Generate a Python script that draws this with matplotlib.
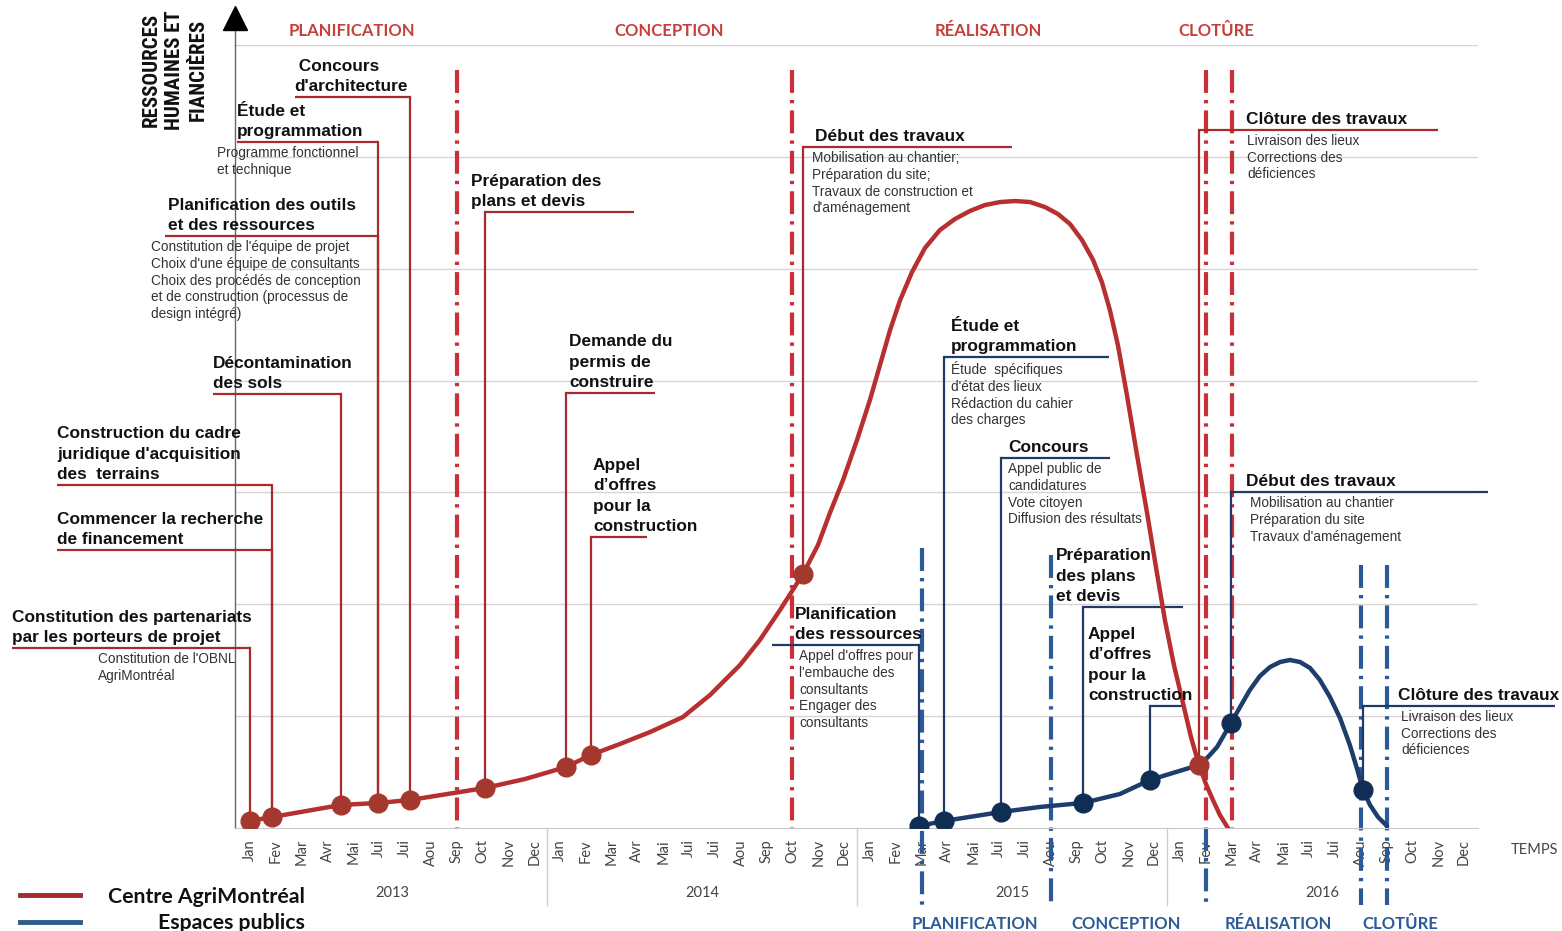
import matplotlib
matplotlib.use("Agg")
import matplotlib.pyplot as plt
import matplotlib.transforms as mtransforms
from matplotlib import font_manager
from matplotlib.lines import Line2D

W, H = 1562, 931

# ---------------------------------------------------------------- data
month_labels = ["Jan", "Fev", "Mar", "Avr", "Mai", "Jui", "Jui", "Aou",
                "Sep", "Oct", "Nov", "Dec"] * 4
year_labels = ["2013", "2014", "2015", "2016"]

# x: months since Jan 2013, y: resources (one grid step = 1)
agri_x = [0.00, 0.85, 3.52, 4.96, 6.19, 9.10, 10.65, 12.23, 13.20, 14.32,
          15.49, 16.76, 17.81, 18.97, 19.74, 20.52, 21.41, 21.99, 22.45,
          22.96, 23.50, 24.00, 24.39, 24.78, 25.17, 25.63, 26.13, 26.71,
          27.29, 27.87, 28.45, 29.04, 29.62, 30.20, 30.78, 31.28, 31.75,
          32.21, 32.64, 32.98, 33.29, 33.60, 33.95, 34.34, 34.73, 35.08,
          35.42, 35.77, 36.12, 36.43, 36.74, 37.01, 37.28, 37.55, 37.86]
agri_y = [0.063, 0.098, 0.206, 0.224, 0.250, 0.358, 0.438, 0.545, 0.653,
          0.751, 0.858, 0.992, 1.189, 1.457, 1.681, 1.949, 2.271, 2.530,
          2.816, 3.111, 3.468, 3.826, 4.139, 4.452, 4.720, 4.970, 5.185,
          5.346, 5.444, 5.516, 5.569, 5.596, 5.605, 5.596, 5.551, 5.489,
          5.399, 5.256, 5.078, 4.881, 4.631, 4.318, 3.871, 3.335, 2.816,
          2.324, 1.859, 1.457, 1.117, 0.813, 0.563, 0.393, 0.250, 0.116,
          0.000]
agri_pt_x = [0.00, 0.85, 3.52, 4.96, 6.19, 9.10, 12.23, 13.20, 21.41, 36.74]
agri_pt_y = [0.063, 0.098, 0.206, 0.224, 0.250, 0.358, 0.545, 0.653, 2.271,
             0.563]

public_x = [25.90, 26.87, 29.07, 30.58, 32.25, 33.68, 34.84, 35.73, 36.74,
            37.09, 37.44, 37.98, 38.33, 38.71, 39.10, 39.49, 39.88, 40.26,
            40.65, 41.04, 41.42, 41.81, 42.20, 42.58, 42.85, 43.09, 43.36,
            43.67, 44.02]
public_y = [0.018, 0.063, 0.143, 0.188, 0.224, 0.304, 0.429, 0.492, 0.563,
            0.635, 0.724, 0.939, 1.082, 1.234, 1.359, 1.439, 1.484, 1.502,
            1.484, 1.430, 1.323, 1.171, 0.983, 0.742, 0.536, 0.340, 0.206,
            0.098, 0.018]
public_pt_x = [25.90, 26.87, 29.07, 32.25, 34.84, 37.98, 43.09]
public_pt_y = [0.018, 0.063, 0.143, 0.224, 0.429, 0.939, 0.340]

# phase boundaries (month index)
agri_phase_lines = [8, 21, 37, 38]
agri_phase_top = 6.78
public_phase_lines = [26, 31, 37, 43, 44]
public_phase_tops = [2.50, 2.44, 0.0, 2.35, 2.35]

agri_phases = ["PLANIFICATION", "CONCEPTION", "RÉALISATION", "CLOTÛRE"]
public_phases = ["PLANIFICATION", "CONCEPTION", "RÉALISATION", "CLOTÛRE"]

agri_titles = [
    "Constitution des partenariats\npar les porteurs de projet",
    "Commencer la recherche\nde financement",
    "Construction du cadre\njuridique d'acquisition\ndes  terrains",
    "Décontamination\ndes sols",
    "Planification des outils\net des ressources",
    "Étude et\nprogrammation",
    " Concours\nd'architecture",
    "Préparation des\nplans et devis",
    "Demande du\npermis de\nconstruire",
    "Appel\nd’offres\npour la\nconstruction",
    "Début des travaux",
    "Clôture des travaux",
]
agri_notes = [
    "Constitution de l'OBNL\nAgriMontréal",
    None, None, None,
    "Constitution de l'équipe de projet\nChoix d'une équipe de consultants\n"
    "Choix des procédés de conception\net de construction (processus de\n"
    "design intégré)",
    "Programme fonctionnel\net technique",
    None, None, None, None,
    "Mobilisation au chantier;\nPréparation du site;\n"
    "Travaux de construction et\nd'aménagement",
    "Livraison des lieux\nCorrections des\ndéficiences",
]
agri_targets = [0, 1, 1, 2, 3, 3, 4, 5, 6, 7, 8, 9]

public_titles = [
    "Planification\ndes ressources",
    "Étude et\nprogrammation",
    "Concours",
    "Préparation\ndes plans\net devis",
    "Appel\nd’offres\npour la\nconstruction",
    "Début des travaux",
    "Clôture des travaux",
]
public_notes = [
    "Appel d'offres pour\nl'embauche des\nconsultants\nEngager des\nconsultants",
    "Étude  spécifiques\nd'état des lieux\nRédaction du cahier\ndes charges",
    "Appel public de\ncandidatures\nVote citoyen\nDiffusion des résultats",
    None, None,
    "Mobilisation au chantier\nPréparation du site\nTravaux d'aménagement",
    "Livraison des lieux\nCorrections des\ndéficiences",
]
public_targets = [0, 1, 2, 3, 4, 5, 6]

# ---------------------------------------------------------------- layout (pixels)
# title x, underline y, underline far end x, note x
agri_layout = [(12, 648, 12, 98), (57, 550, 57, 0), (57, 485, 57, 0),
               (213, 394, 213, 0), (168, 236, 165, 151), (237, 142, 237, 217),
               (294, 97, 295, 0), (471, 212, 634, 0), (569, 393, 655, 0),
               (593, 537, 647, 0), (815, 147, 1012, 812),
               (1246, 130, 1438, 1247)]
public_layout = [(795, 645, 772, 799), (951, 357, 1109, 951),
                 (1008, 458, 1110, 1008), (1056, 607, 1183, 0),
                 (1088, 706, 1183, 0), (1246, 492, 1488, 1250),
                 (1398, 706, 1555, 1401)]

RED = "#b7302f"
RED_LINE = "#a82a2d"
RED_DOT = "#a5382e"
RED_PHASE = "#c92f38"
BLUE = "#1d3d6c"
BLUE_LINE = "#1f3a66"
BLUE_DOT = "#102d53"
BLUE_PHASE = "#2b5a98"

TITLE_FONT = dict(family="Liberation Sans", fontsize=12.4, fontweight="bold",
                  color="#111111", linespacing=1.45)
NOTE_FONT = dict(family="Liberation Sans", fontsize=9.8, color="#333333",
                 linespacing=1.25)
CAL = ["Lato", "DejaVu Sans"]


def have_font(name):
    try:
        font_manager.findfont(font_manager.FontProperties(family=name),
                              fallback_to_default=False)
        return True
    except ValueError:
        return False


# narrow font for the vertical axis title, if one is installed
ylab_family, ylab_size = "Liberation Sans", 11.8
for fam, size in (("Roboto Condensed", 15), ("Liberation Sans Narrow", 14.5),
                  ("Open Sans Condensed", 14)):
    if have_font(fam):
        ylab_family, ylab_size = fam, size
        break

fig = plt.figure(figsize=(W / 100, H / 100), dpi=100)
fig.patch.set_facecolor("white")
ax = fig.add_axes([235 / W, 1 - 828 / H, (1478 - 235) / W, (828 - 45) / H])
ax.set_xlim((235 - 250) / 25.83, (1478 - 250) / 25.83)
ax.set_ylim(0, 7)

PX = mtransforms.Affine2D().scale(1 / W, -1 / H).translate(0, 1) + fig.transFigure
px_to_data = PX + ax.transData.inverted()

# axes, grid, ticks
ax.set_yticks(range(1, 8))
ax.set_yticklabels([])
ax.grid(axis="y", color="#ddd2d2", lw=1.0)
ax.set_axisbelow(True)
ax.tick_params(axis="y", length=0)
ax.set_xticks(range(48))
ax.set_xticklabels(month_labels, rotation=90, family=CAL, fontsize=10.5,
                   color="#444444")
ax.tick_params(axis="x", length=0, pad=8)
for s in ("top", "right"):
    ax.spines[s].set_visible(False)
ax.spines["bottom"].set_color("#c8c8c8")
ax.spines["left"].set_color("#666666")
ax.spines["left"].set_linewidth(1.0)
x_axis = ax.get_xlim()[0]
ax.plot([x_axis, x_axis], [7, 7.2], color="#666666", lw=1.0, clip_on=False)
ax.plot([x_axis], [7.24], marker="^", markersize=17, color="black",
        clip_on=False)

for i, yl in enumerate(year_labels):
    ax.text(5.5 + 12 * i, -0.58, yl, ha="center", va="center", family=CAL,
            fontsize=10.5, color="#444444")
    if i:
        ax.plot([12 * i - 0.5] * 2, [0, -0.69], color="#cfcfcf", lw=1.0,
                clip_on=False)
ax.text(48.8, -0.197, "TEMPS", ha="left", va="center", family=CAL,
        fontsize=10.5, color="#444444")

# phase separators
for m in agri_phase_lines:
    ax.plot([m, m], [agri_phase_top, 0], color=RED_PHASE, lw=3.0,
            ls=(0, (5.5, 1.7, 0.8, 1.7)), zorder=2)
for m, top in zip(public_phase_lines, public_phase_tops):
    ax.plot([m, m], [top, -0.69], color=BLUE_PHASE, lw=3.0,
            ls=(0, (5.5, 1.7, 0.8, 1.7)), zorder=2, clip_on=False)

# curves
ax.plot(public_x, public_y, color=BLUE, lw=3.2, zorder=4,
        solid_joinstyle="round", solid_capstyle="round")
ax.plot(agri_x, agri_y, color=RED, lw=3.2, zorder=4,
        solid_joinstyle="round", solid_capstyle="round")
ax.plot(public_pt_x, public_pt_y, ls="none", marker="o", markersize=13.5,
        color=BLUE_DOT, zorder=6)
ax.plot(agri_pt_x, agri_pt_y, ls="none", marker="o", markersize=13.5,
        color=RED_DOT, zorder=6)


def callouts(titles, notes, targets, layout, xs, ys, color):
    for title, note, t, (tx, uy, far, nx) in zip(titles, notes, targets, layout):
        mx, my = xs[t], ys[t]
        far_x, u_y = px_to_data.transform((far, uy))
        ax.plot([mx, mx], [my, u_y], color=color, lw=1.6, zorder=3,
                clip_on=False)
        ax.plot([mx, far_x], [u_y, u_y], color=color, lw=1.6, zorder=3,
                clip_on=False, solid_capstyle="butt")
        ax.text(tx, uy - 3, title, transform=PX, ha="left", va="bottom",
                zorder=7, **TITLE_FONT)
        if note:
            ax.text(nx, uy + 4, note, transform=PX, ha="left", va="top",
                    zorder=7, **NOTE_FONT)


callouts(agri_titles, agri_notes, agri_targets, agri_layout, agri_pt_x,
         agri_pt_y, RED_LINE)
callouts(public_titles, public_notes, public_targets, public_layout,
         public_pt_x, public_pt_y, BLUE_LINE)

# phase names
for name, cx in zip(agri_phases, [352, 669, 988, 1216]):
    ax.text(cx, 31, name, transform=PX, ha="center", va="center", family=CAL,
            fontsize=12, fontweight="bold", color="#c5403a")
for name, cx in zip(public_phases, [975, 1126, 1278, 1400]):
    ax.text(cx, 924, name, transform=PX, ha="center", va="center", family=CAL,
            fontsize=12, fontweight="bold", color=BLUE_PHASE)

# y label
ax.text(175, 70, "RESSOURCES\nHUMAINES ET\nFIANCIÈRES", transform=PX,
        rotation=90, ha="center", va="center", multialignment="center",
        family=ylab_family, fontsize=ylab_size, fontweight="bold",
        color="#111111", linespacing=1.3)

# legend
fig.add_artist(Line2D([20, 80], [895, 895], transform=PX, color="#a52a2a",
                      lw=3.5))
fig.add_artist(Line2D([20, 80], [922, 922], transform=PX, color="#2b5c8a",
                      lw=3.5))
ax.text(305, 897, "Centre AgriMontréal", transform=PX, ha="right",
        va="center", family=CAL, fontsize=15.3, fontweight="bold",
        color="#111111")
ax.text(305, 923, "Espaces publics", transform=PX, ha="right", va="center",
        family=CAL, fontsize=15.3, fontweight="bold", color="#111111")

fig.savefig("out.png", dpi=100)
